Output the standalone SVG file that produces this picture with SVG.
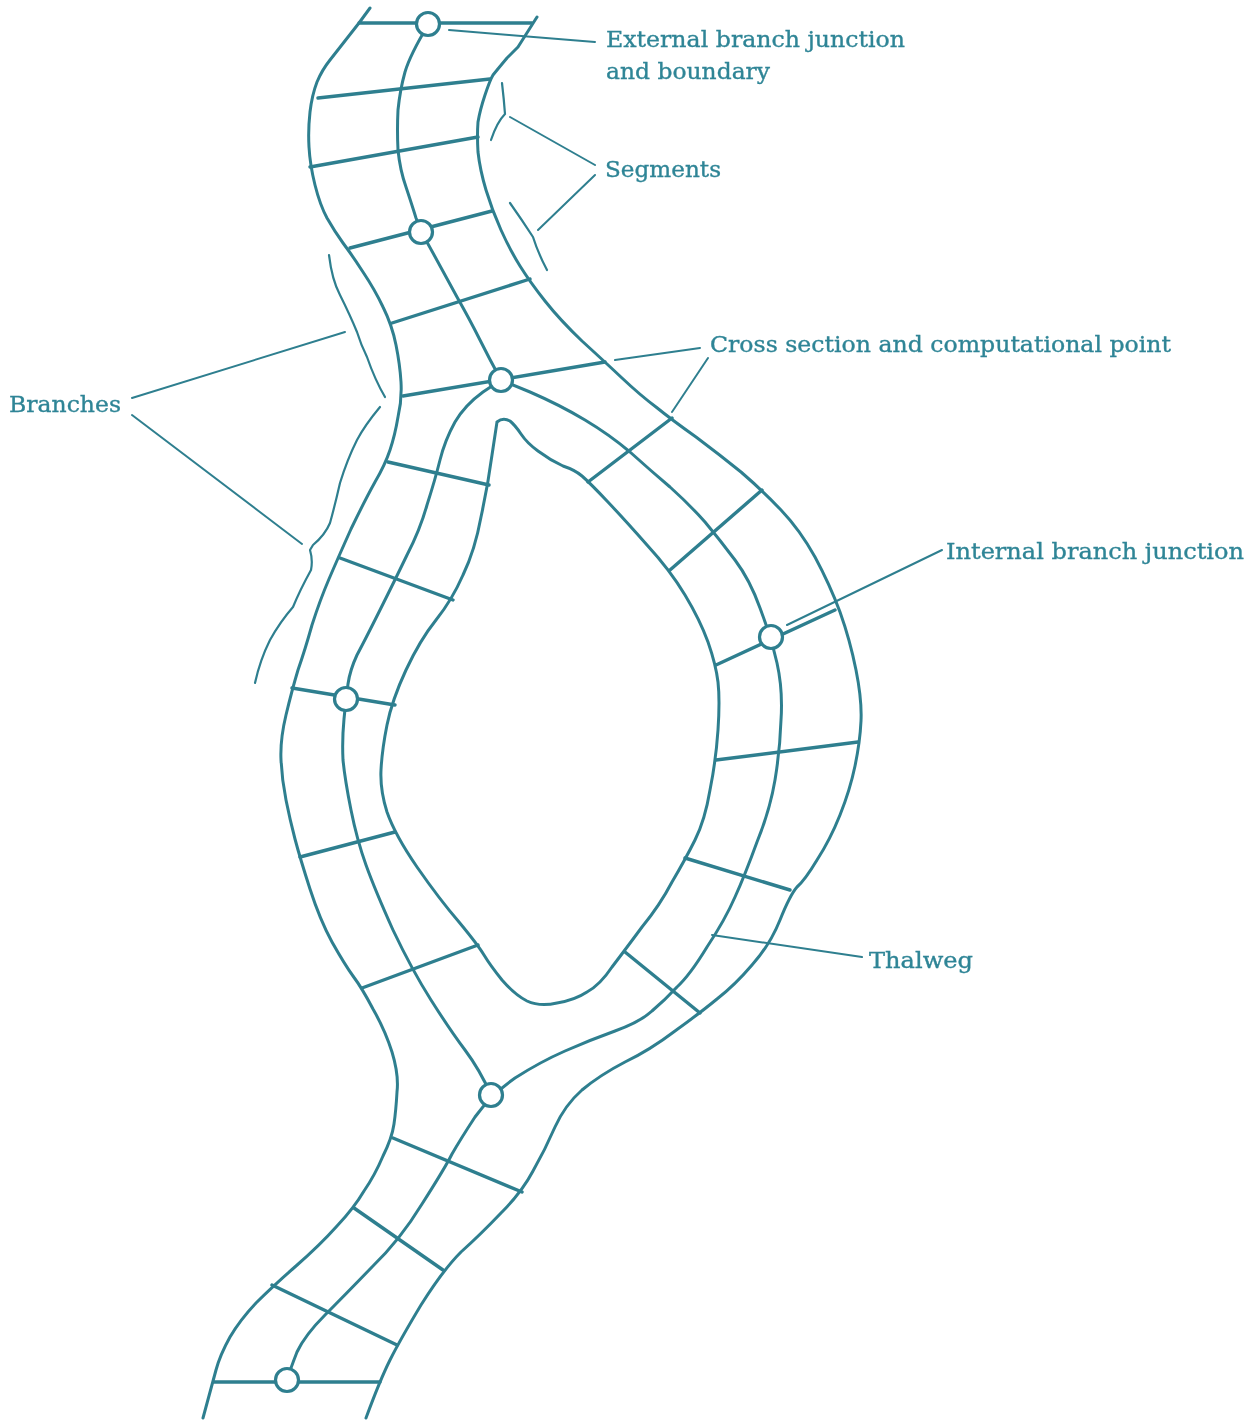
<svg xmlns="http://www.w3.org/2000/svg" width="1257" height="1420" viewBox="0 0 1257 1420">
<defs><filter id="soft" x="-5%" y="-5%" width="110%" height="110%"><feGaussianBlur stdDeviation="0.5"/></filter></defs>
<style>
.l{fill:none;stroke:#2f7f8f;stroke-width:3;stroke-linejoin:round;stroke-linecap:round}
.x{stroke-width:3.4}
.t{stroke-width:2}
.b{stroke-width:2.2}
.j{fill:#fff;stroke:#2f7f8f;stroke-width:3.2}
text{font-family:"DejaVu Serif","Liberation Serif",serif;font-size:22px;font-weight:400;fill:#2f8596;stroke:#2f8596;stroke-width:.35}
</style>
<rect width="1257" height="1420" fill="#fff"/>
<g filter="url(#soft)">
<g id="connectors">
<g id="banks">
<path class="l" d="M370,8L359,23L330,60Q322,70 317,82Q312,95 310,112Q308,130 309,147Q310,165 315,185Q320,205 327,218Q335,232 343,243Q352,255 363,272Q375,290 383,307Q392,325 396,345Q400,365 401,382Q402,400 398,417Q395,435 390,450Q385,465 375,482Q365,500 351,529Q338,558 329,579Q320,600 312,625Q305,650 298,670Q292,690 286,715Q280,740 281,760Q282,780 286,800Q290,820 295,839Q300,858 310,889Q320,920 332,942Q345,965 353,976Q362,988 373,1009Q385,1030 392,1052Q399,1075 397,1092Q396,1110 394,1124Q392,1138 383,1156Q375,1175 364,1191Q354,1208 337,1226Q320,1245 296,1266Q272,1287 256,1303Q240,1320 230,1337Q220,1355 216,1370Q212,1385 203,1418"/>
<path class="l" d="M537,17L518,47L507,58Q497,70 493,75Q490,80 485,95Q480,110 478,122Q477,135 478,152Q480,170 486,190Q492,210 501,230Q510,250 520,266Q530,282 545,301Q560,320 582,341Q605,362 622,378Q640,395 656,407Q672,420 696,437Q720,455 741,472Q762,490 781,510Q800,530 815,557Q830,585 840,612Q850,640 856,670Q862,700 861,721Q860,742 855,766Q850,790 840,815Q830,840 817,860Q805,880 797,887Q790,895 780,920Q770,945 752,965Q735,985 717,999Q700,1013 675,1031Q650,1050 625,1062Q600,1075 582,1090Q565,1105 555,1127Q545,1150 533,1171Q522,1192 501,1213Q480,1235 461,1252Q443,1270 421,1305Q400,1340 390,1360Q380,1380 366,1418"/>
<path class="l" d="M497,422Q503,417 510,421Q515,425 521,434Q527,443 538,451Q550,460 563,466Q575,470 582,476Q590,483 607,501Q625,520 647,545Q670,570 685,595Q700,620 708,642Q716,665 718,682Q720,700 718,730Q716,760 710,790Q705,820 695,840Q685,860 672,882Q660,905 642,927Q625,950 612,967Q600,985 587,992Q575,1000 557,1003Q540,1007 527,1001Q515,995 502,980Q490,965 484,955Q478,945 459,922Q440,900 417,867Q395,835 387,812Q380,790 381,770Q382,750 387,725Q392,700 406,670Q420,640 436,620Q452,600 463,575Q475,550 481,517Q488,485 492,455L497,422"/>
</g>
<g id="thalweg">
<path class="l" d="M428,25Q410,55 405,72Q400,90 398,110Q397,130 398,150Q400,170 406,187Q412,205 416,218Q421,232 433,253Q445,275 457,297Q470,320 480,340Q490,360 501,380"/>
<path class="l" d="M501,380L530,392Q560,405 585,420Q610,435 630,452Q650,470 670,487Q690,505 705,522Q720,540 735,560Q750,580 760,608Q771,637 777,663Q783,690 781,720Q780,750 775,780Q770,810 757,842Q745,875 735,897Q725,920 707,947Q690,975 677,987Q665,1000 652,1011Q640,1022 615,1031Q590,1040 565,1051Q540,1062 515,1078Q491,1095 475,1117Q460,1140 452,1154Q445,1168 422,1204Q400,1240 372,1267Q345,1295 325,1315Q305,1335 297,1352Q290,1370 287,1380"/>
<path class="l" d="M501,380L483,392Q465,405 455,422Q445,440 440,460Q435,480 427,505Q420,530 407,555Q395,580 380,610Q365,640 357,655Q350,670 348,684Q346,699 344,719Q342,740 343,760Q345,780 351,810Q357,840 366,865Q375,890 393,930Q412,970 431,1000Q450,1030 465,1050Q480,1070 491,1095"/>
</g>
<g id="sections">
<path class="l x" d="M359,23H532M318,98L490,79M310,167L478,137M350,248L492,211M392,323L530,279M403,396L605,362M388,462L489,485M340,558L453,600M292,688L395,705M300,857L395,832M362,988L478,945M393,1138L522,1192M354,1208L443,1270M272,1285L397,1345M214,1382H380M588,482L672,418M670,570L762,490M716,665L835,610M716,760L858,742M685,858L790,890M625,952L700,1013"/>
</g>
<g id="leaders">
<path class="l t" d="M449,30L595,42M510,117L595,165M538,230L595,175M132,398L345,332M132,415L302,544M615,360L700,348M672,412L708,358M787,625L942,550M712,935L862,957"/>
</g>
<g id="braces">
<path class="l b" d="M502,83Q504,100 505,114Q497,122 491,140"/>
<path class="l b" d="M510,203Q522,220 533,237Q538,253 547,270"/>
<path class="l b" d="M329,255Q332,280 340,295Q350,315 357,332Q361,345 367,357Q375,380 385,397"/>
<path class="l b" d="M380,407Q365,425 357,440Q347,460 340,483Q335,505 330,523Q325,535 313,545L310,550Q313,560 311,570Q300,590 293,607Q280,622 270,640Q260,660 255,683"/>
</g>
</g>
<g id="junction-top"><circle class="j" cx="428" cy="24" r="11.5"/></g>
<g id="junction-upper"><circle class="j" cx="421" cy="232" r="11.5"/></g>
<g id="junction-split"><circle class="j" cx="501" cy="380" r="11.5"/></g>
<g id="junction-right"><circle class="j" cx="771" cy="637" r="11.5"/></g>
<g id="junction-left"><circle class="j" cx="346" cy="699" r="11.5"/></g>
<g id="junction-merge"><circle class="j" cx="491" cy="1095" r="11.5"/></g>
<g id="junction-bottom"><circle class="j" cx="287" cy="1380" r="11.5"/></g>
<g id="labels">
<text x="606" y="47" textLength="299" lengthAdjust="spacingAndGlyphs">External branch junction</text>
<text x="606" y="79" textLength="164" lengthAdjust="spacingAndGlyphs">and boundary</text>
<text x="605" y="177" textLength="116" lengthAdjust="spacingAndGlyphs">Segments</text>
<text x="710" y="352" textLength="461" lengthAdjust="spacingAndGlyphs">Cross section and computational point</text>
<text x="9" y="412" textLength="112" lengthAdjust="spacingAndGlyphs">Branches</text>
<text x="946" y="559" textLength="298" lengthAdjust="spacingAndGlyphs">Internal branch junction</text>
<text x="869" y="968" textLength="104" lengthAdjust="spacingAndGlyphs">Thalweg</text>
</g>
</g>
</svg>
